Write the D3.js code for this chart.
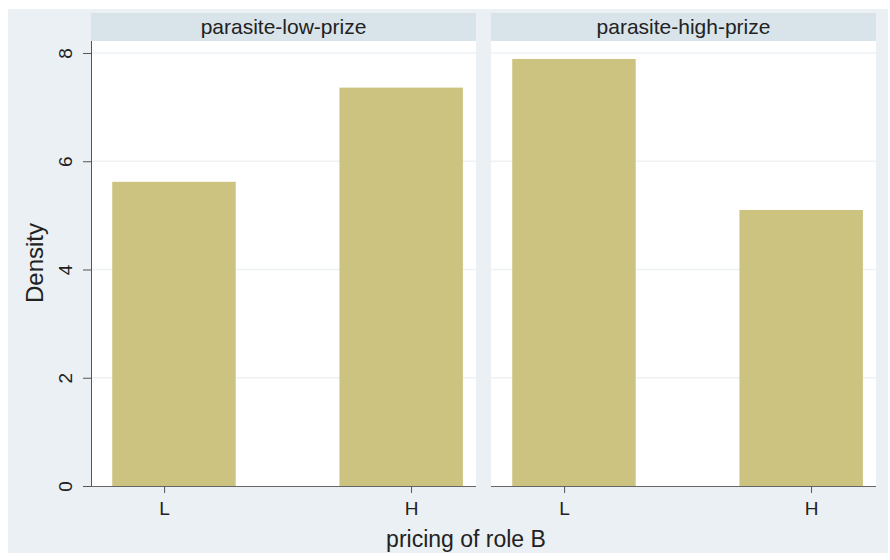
<!DOCTYPE html>
<html>
<head>
<meta charset="utf-8">
<script src="https://cdn.jsdelivr.net/npm/d3@7"></script>
<style>
  body { margin: 0; background: #ffffff; }
  text { font-family: "Liberation Sans", Arial, sans-serif; fill: #222; }
</style>
</head>
<body>
<div id="chart"></div>
<script>

// Data
const panels = ["parasite-low-prize", "parasite-high-prize"]
const categories = ["L", "H"]
const density = [
    [5.62, 7.36],
    [7.89, 5.10]
]
// histogram bins in x units (L = 0, H = 1)
const binStart = [-0.21, 0.71]
const binWidth = 0.5
const yTicks = [0, 2, 4, 6, 8]

// Create SVG
const outerWidth = 890
const outerHeight = 560

const svg = d3.select("#chart")
    .append("svg")
    .attr("width", outerWidth)
    .attr("height", outerHeight)

// graph background
svg.append("rect")
    .attr("x", 8).attr("y", 9)
    .attr("width", 880).attr("height", 544)
    .attr("fill", "#eaf0f3")

const panelLeft = [91, 491]
const panelWidth = 385
const stripTop = 13
const stripHeight = 28
const plotTop = stripTop + stripHeight
const plotBottom = 486

const y = d3.scaleLinear()
    .domain([0, 8])
    .range([plotBottom, 53])

panels.forEach((name, i) => {

    const x = d3.scaleLinear()
        .domain([-0.296, 1.263])
        .range([panelLeft[i], panelLeft[i] + panelWidth])

    const g = svg.append("g")

    // plot region
    g.append("rect")
        .attr("x", panelLeft[i]).attr("y", plotTop)
        .attr("width", panelWidth).attr("height", plotBottom - plotTop)
        .attr("fill", "#ffffff")

    // header strip
    g.append("rect")
        .attr("x", panelLeft[i]).attr("y", stripTop)
        .attr("width", panelWidth).attr("height", stripHeight)
        .attr("fill", "#d8e3ea")

    g.append("text")
        .attr("x", panelLeft[i] + panelWidth / 2)
        .attr("y", stripTop + stripHeight / 2 + 7)
        .attr("text-anchor", "middle")
        .style("font-size", "21px")
        .text(name)

    // gridlines
    g.selectAll(".grid")
        .data(yTicks.slice(1))
        .enter()
        .append("line")
        .attr("x1", panelLeft[i]).attr("x2", panelLeft[i] + panelWidth)
        .attr("y1", d => y(d)).attr("y2", d => y(d))
        .attr("stroke", "#eef2f4")
        .attr("stroke-width", 1.5)

    // bars
    g.selectAll(".bar")
        .data(density[i])
        .enter()
        .append("rect")
        .attr("x", (d, j) => x(binStart[j]))
        .attr("width", (d, j) => x(binStart[j] + binWidth) - x(binStart[j]))
        .attr("y", d => y(d))
        .attr("height", d => plotBottom - y(d))
        .attr("fill", "#cbc37f")

    // x axis
    const xAxis = d3.axisBottom(x)
        .tickValues([0, 1])
        .tickFormat((d, j) => categories[j])
        .tickSize(7)
        .tickPadding(9)

    const ax = g.append("g")
        .attr("transform", `translate(0, ${plotBottom})`)
        .call(xAxis)

    ax.select(".domain").attr("stroke", "#666").attr("d", `M${panelLeft[i]},0.5H${panelLeft[i] + panelWidth}`)
    ax.selectAll(".tick line").attr("stroke", "#555")
    ax.selectAll(".tick text")
        .style("font-size", "19px")
        .style("font-family", "Liberation Sans, Arial, sans-serif")
        .attr("fill", "#222")
})

// y axis
const yAxis = d3.axisLeft(y)
    .tickValues(yTicks)
    .tickSize(8)
    .tickPadding(0)

const yAx = svg.append("g")
    .attr("transform", `translate(${panelLeft[0]}, 0)`)
    .call(yAxis)

yAx.select(".domain").attr("stroke", "#555").attr("d", `M0.5,${plotTop}V${plotBottom}`)
yAx.selectAll(".tick line").attr("stroke", "#555")
yAx.selectAll(".tick text")
    .attr("x", null).attr("dy", null)
    .attr("text-anchor", "middle")
    .attr("transform", "translate(-19, 0) rotate(-90)")
    .attr("y", 0)
    .style("font-size", "19px")
    .style("font-family", "Liberation Sans, Arial, sans-serif")
    .attr("fill", "#222")

// axis titles
svg.append("text")
    .attr("transform", "translate(43, 263) rotate(-90)")
    .attr("text-anchor", "middle")
    .style("font-size", "24px")
    .text("Density")

svg.append("text")
    .attr("x", 466)
    .attr("y", 547)
    .attr("text-anchor", "middle")
    .style("font-size", "23px")
    .text("pricing of role B")

</script>
</body>
</html>
